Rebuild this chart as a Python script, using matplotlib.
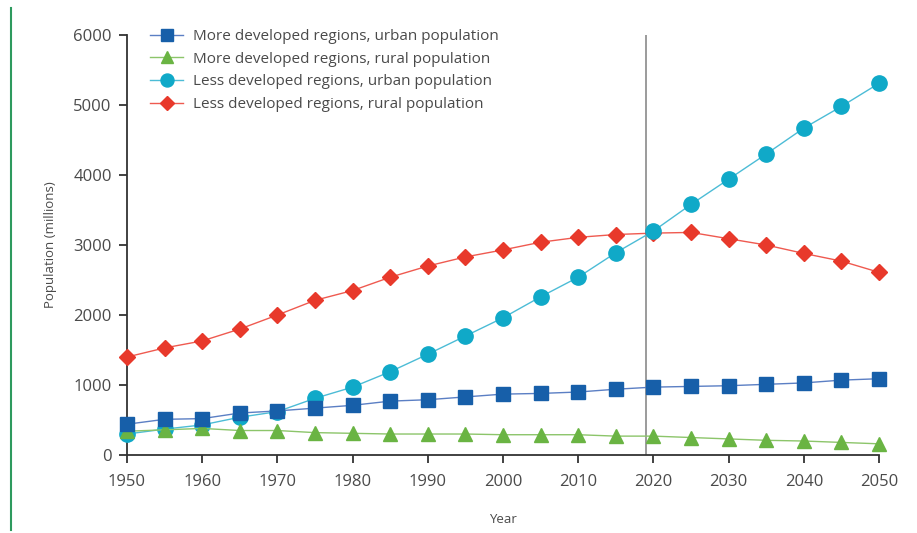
import numpy as np
import matplotlib.pyplot as plt
from matplotlib.lines import Line2D

# ==========================================
# Datos (millones de personas)
# ==========================================
years = [1950, 1955, 1960, 1965, 1970, 1975, 1980, 1985, 1990, 1995, 2000,
         2005, 2010, 2015, 2020, 2025, 2030, 2035, 2040, 2045, 2050]

more_urban = [440, 510, 520, 600, 630, 670, 710, 770, 790, 830, 870,
              880, 900, 940, 970, 980, 990, 1010, 1030, 1070, 1090]
more_rural = [340, 360, 380, 350, 350, 320, 310, 300, 300, 300, 290,
              290, 290, 270, 270, 250, 230, 210, 200, 180, 160]
less_urban = [300, 370, 430, 540, 620, 810, 970, 1190, 1440, 1700, 1960,
              2260, 2540, 2890, 3200, 3580, 3940, 4300, 4670, 4980, 5310]
less_rural = [1400, 1530, 1630, 1800, 2000, 2210, 2350, 2540, 2700, 2830, 2930,
              3040, 3110, 3150, 3170, 3180, 3090, 3000, 2880, 2770, 2610]

labels = ['More developed regions, urban population',
          'More developed regions, rural population',
          'Less developed regions, urban population',
          'Less developed regions, rural population']

plt.rcParams['font.family'] = ['Open Sans', 'DejaVu Sans']
txt = '#4a4a4a'

fig = plt.figure(figsize=(9.17, 5.33), dpi=100)
ax = fig.add_axes([0.1385, 0.1463, 0.8201, 0.788])

# linea vertical del año actual
ax.axvline(2019, ymin=0, ymax=1, color='#8a8a8a', linewidth=1.2, zorder=1)

ax.plot(years, less_rural, '-D', color='#ef5a50', mfc='#e8392b', mec='#e8392b',
        markersize=8, linewidth=1, label=labels[3], zorder=3, clip_on=False)
ax.plot(years, less_urban, '-o', color='#4cbcd6', mfc='#10a9c8', mec='#10a9c8',
        markersize=11, linewidth=1, label=labels[2], zorder=3, clip_on=False)
ax.plot(years, more_rural, '-^', color='#8cc56a', mfc='#6ab443', mec='#6ab443',
        markersize=10, linewidth=1, label=labels[1], zorder=4, clip_on=False)
ax.plot(years, more_urban, '-s', color='#5b7fc4', mfc='#175fa9', mec='#175fa9',
        markersize=10.5, linewidth=1, label=labels[0], zorder=4, clip_on=False)

ax.set_xlim(1950, 2050)
ax.set_ylim(0, 6000)
ax.set_xticks(np.arange(1950, 2051, 10))
ax.set_yticks(np.arange(0, 6001, 1000))

for s in ['top', 'right']:
    ax.spines[s].set_visible(False)
for s in ['left', 'bottom']:
    ax.spines[s].set_color('#333333')
    ax.spines[s].set_linewidth(1.3)
ax.tick_params(direction='out', length=6, width=1.3, color='#333333',
               labelsize=12, labelcolor=txt)
ax.tick_params(axis='x', pad=8)
ax.tick_params(axis='y', pad=5)

ax.set_xlabel('Year', fontsize=9.5, color=txt, labelpad=16)
ax.set_ylabel('Population (millions)', fontsize=9.5, color=txt, labelpad=12)

# leyenda en el orden original
h, l = ax.get_legend_handles_labels()
orden = [3, 2, 1, 0]
ax.legend([h[i] for i in orden], [l[i] for i in orden], loc='upper left',
          bbox_to_anchor=(0.012, 1.047), frameon=False, fontsize=11,
          labelcolor=txt, handlelength=2.2, handletextpad=0.6,
          labelspacing=0.5, markerscale=0.85)

# borde verde a la izquierda
fig.add_artist(Line2D([0.012, 0.012], [0.005, 0.985], color='#2e9a5e',
                      linewidth=1.5))

fig.savefig('out.png', dpi=100)
